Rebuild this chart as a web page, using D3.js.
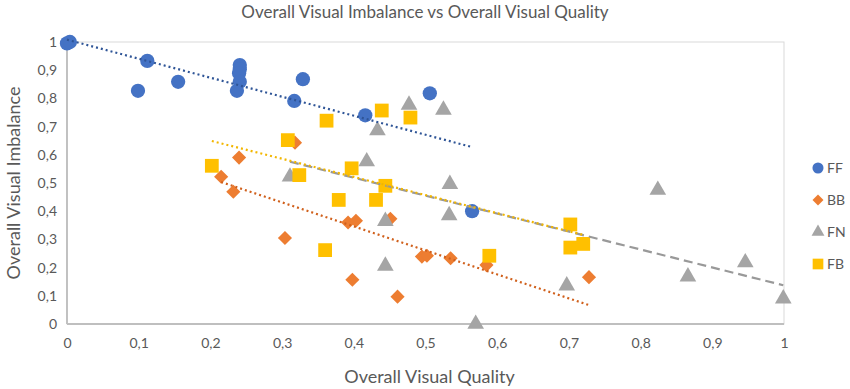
<!DOCTYPE html>
<html>
<head>
<meta charset="utf-8">
<script src="https://cdn.jsdelivr.net/npm/d3@7"></script>
<style>
  body { margin: 0; background: #fff; }
  text { font-family: Lato, "Open Sans", sans-serif; fill: #595959; }
</style>
</head>
<body>
<script>
// series values [x, y]
const ff = [[0, 0.995], [0.004, 1.0], [0.112, 0.933], [0.099, 0.827], [0.155, 0.859],
  [0.241, 0.918], [0.241, 0.903], [0.240, 0.889], [0.241, 0.859], [0.237, 0.827],
  [0.329, 0.868], [0.317, 0.791], [0.506, 0.818], [0.416, 0.740], [0.565, 0.400]];
const bb = [[0.240, 0.590], [0.318, 0.643], [0.215, 0.522], [0.232, 0.469], [0.392, 0.360],
  [0.403, 0.366], [0.451, 0.373], [0.304, 0.305], [0.495, 0.239], [0.502, 0.242],
  [0.535, 0.233], [0.398, 0.157], [0.461, 0.097], [0.585, 0.209], [0.728, 0.166]];
const fn = [[0.311, 0.522], [0.477, 0.777], [0.525, 0.759], [0.433, 0.686], [0.418, 0.576],
  [0.534, 0.496], [0.533, 0.385], [0.444, 0.365], [0.444, 0.206], [0.570, 0.0],
  [0.824, 0.475], [0.946, 0.218], [0.866, 0.168], [0.697, 0.136], [0.999, 0.090]];
const fb = [[0.202, 0.561], [0.308, 0.652], [0.362, 0.721], [0.324, 0.528], [0.439, 0.757],
  [0.479, 0.732], [0.397, 0.552], [0.444, 0.490], [0.379, 0.440], [0.431, 0.440],
  [0.360, 0.262], [0.702, 0.353], [0.702, 0.271], [0.720, 0.284], [0.589, 0.242]];
const seriesNames = ["FF", "BB", "FN", "FB"];
const xTicks = [0, 0.1, 0.2, 0.3, 0.4, 0.5, 0.6, 0.7, 0.8, 0.9, 1];
const yTicks = [0, 0.1, 0.2, 0.3, 0.4, 0.5, 0.6, 0.7, 0.8, 0.9, 1];

const width = 850, height = 389;
const margin = { top: 42, right: 66, bottom: 65, left: 67 };

const series = [
  { name: seriesNames[0], data: ff, color: "#4472C4", line: "#2F5597", dash: "2,3", shape: d3.symbolCircle, size: 160, rot: 0 },
  { name: seriesNames[1], data: bb, color: "#ED7D31", line: "#D0601C", dash: "2,3", shape: d3.symbolSquare, size: 100, rot: 45 },
  { name: seriesNames[2], data: fn, color: "#A5A5A5", line: "#999999", dash: "9,5", shape: d3.symbolTriangle, size: 120, rot: 0 },
  { name: seriesNames[3], data: fb, color: "#FFC000", line: "#F2B600", dash: "2,3", shape: d3.symbolSquare, size: 190, rot: 0 }
];

const fmt = d3.formatLocale({ decimal: ",", thousands: ".", grouping: [3], currency: ["", ""] }).format("~g");

const svg = d3.select("body").append("svg")
  .attr("width", width)
  .attr("height", height);

const x = d3.scaleLinear().domain([0, 1]).range([margin.left, width - margin.right]);
const y = d3.scaleLinear().domain([0, 1]).range([height - margin.bottom, margin.top]);

// plot frame
svg.append("rect")
  .attr("x", x(0)).attr("y", y(1))
  .attr("width", x(1) - x(0)).attr("height", y(0) - y(1))
  .attr("fill", "none").attr("stroke", "#D9D9D9").attr("stroke-width", 1);
svg.append("line")
  .attr("x1", x(0)).attr("x2", x(0)).attr("y1", y(1)).attr("y2", y(0))
  .attr("stroke", "#A6A6A6").attr("stroke-width", 1.2);
svg.append("line")
  .attr("x1", x(0)).attr("x2", x(1)).attr("y1", y(0)).attr("y2", y(0))
  .attr("stroke", "#BFBFBF").attr("stroke-width", 2);

// axes
const xAxis = svg.append("g")
  .attr("transform", `translate(0,${y(0)})`)
  .call(d3.axisBottom(x).tickValues(xTicks).tickFormat(fmt).tickSize(0).tickPadding(14));
xAxis.select(".domain").remove();
xAxis.selectAll("text").style("font-size", "14px").attr("fill", "#595959");

const yAxis = svg.append("g")
  .attr("transform", `translate(${x(0)},0)`)
  .call(d3.axisLeft(y).tickValues(yTicks).tickFormat(fmt).tickSize(0).tickPadding(10));
yAxis.select(".domain").remove();
yAxis.selectAll("text").style("font-size", "14px").attr("fill", "#595959");

// linear trendlines (least squares over each series' x range)
function fit(data) {
  const mx = d3.mean(data, d => d[0]), my = d3.mean(data, d => d[1]);
  const b = d3.sum(data, d => (d[0] - mx) * (d[1] - my)) / d3.sum(data, d => (d[0] - mx) ** 2);
  const a = my - b * mx;
  const [x0, x1] = d3.extent(data, d => d[0]);
  return [[x0, a + b * x0], [x1, a + b * x1]];
}

const lineGen = d3.line().x(d => x(d[0])).y(d => y(d[1]));

// markers
series.forEach(s => {
  svg.append("g").selectAll("path")
    .data(s.data)
    .join("path")
    .attr("transform", d => `translate(${x(d[0])},${y(d[1])}) rotate(${s.rot})`)
    .attr("d", d3.symbol().type(s.shape).size(s.size))
    .attr("fill", s.color);
});

// trendlines on top
series.forEach(s => {
  svg.append("path")
    .attr("d", lineGen(fit(s.data)))
    .attr("fill", "none")
    .attr("stroke", s.line)
    .attr("stroke-width", 2.2)
    .attr("stroke-dasharray", s.dash);
});

// legend
const legend = svg.append("g");
series.forEach((s, i) => {
  const ly = 168 + i * 32;
  legend.append("path")
    .attr("transform", `translate(818,${ly}) rotate(${s.rot})`)
    .attr("d", d3.symbol().type(s.shape).size(s.size * 0.6))
    .attr("fill", s.color);
  legend.append("text")
    .attr("x", 827).attr("y", ly)
    .attr("dy", "0.35em")
    .style("font-size", "14px")
    .text(s.name);
});

// titles
svg.append("text")
  .attr("x", width / 2).attr("y", 18)
  .attr("text-anchor", "middle")
  .style("font-size", "17px")
  .text("Overall Visual Imbalance vs Overall Visual Quality");

svg.append("text")
  .attr("x", (x(0) + x(1)) / 2 + 4).attr("y", 383)
  .attr("text-anchor", "middle")
  .style("font-size", "18px")
  .text("Overall Visual Quality");

svg.append("text")
  .attr("transform", `translate(20,${(y(0) + y(1)) / 2}) rotate(-90)`)
  .attr("text-anchor", "middle")
  .style("font-size", "18px")
  .text("Overall Visual Imbalance");
</script>
</body>
</html>
